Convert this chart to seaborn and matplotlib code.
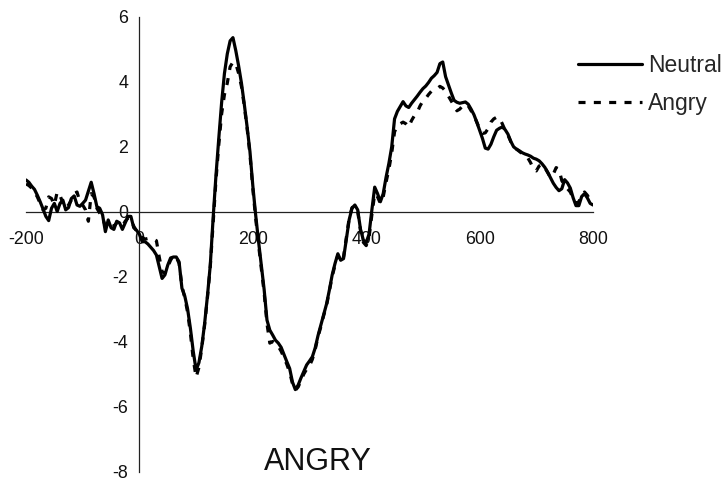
import numpy as np
import pandas as pd
import matplotlib
matplotlib.use("Agg")
import matplotlib.pyplot as plt
import seaborn as sns

# Grand-average ERP waveforms (microvolts), sampled every 5 ms from -200 to 800 ms
time_ms = np.arange(-200, 801, 5)

neutral_uv = [
    0.97, 0.90, 0.78, 0.68, 0.50, 0.30, 0.08, -0.15, -0.28, 0.10,
    0.25, 0.00, 0.25, 0.35, 0.05, 0.12, 0.40, 0.48, 0.20, 0.16,
    0.25, 0.35, 0.62, 0.90, 0.55, 0.15, 0.10, -0.10, -0.62, -0.26,
    -0.50, -0.55, -0.30, -0.35, -0.55, -0.35, -0.15, -0.15, -0.50, -0.58,
    -0.70, -0.93, -0.93, -1.00, -1.10, -1.20, -1.34, -1.70, -2.06, -1.95,
    -1.65, -1.43, -1.40, -1.40, -1.55, -2.36, -2.60, -3.00, -3.60, -4.31,
    -4.88, -4.65, -4.15, -3.45, -2.60, -1.65, -0.21, 1.10, 2.25, 3.35,
    4.25, 4.85, 5.25, 5.35, 4.95, 4.48, 3.95, 3.30, 2.60, 1.84,
    0.80, -0.10, -0.90, -1.65, -2.40, -3.34, -3.65, -3.80, -3.96, -4.05,
    -4.18, -4.40, -4.62, -4.83, -5.25, -5.48, -5.34, -5.12, -4.92, -4.72,
    -4.60, -4.47, -4.20, -3.82, -3.50, -3.17, -2.85, -2.42, -1.95, -1.60,
    -1.30, -1.50, -1.45, -0.85, -0.25, 0.10, 0.20, 0.05, -0.55, -0.88,
    -0.95, -0.70, 0.05, 0.75, 0.55, 0.30, 0.55, 1.05, 1.48, 1.99,
    2.85, 3.08, 3.23, 3.38, 3.25, 3.20, 3.33, 3.44, 3.55, 3.67,
    3.78, 3.86, 3.97, 4.10, 4.18, 4.28, 4.55, 4.60, 4.15, 3.90,
    3.65, 3.42, 3.36, 3.33, 3.35, 3.37, 3.30, 3.15, 2.98, 2.75,
    2.50, 2.25, 1.95, 1.92, 2.07, 2.30, 2.50, 2.56, 2.60, 2.52,
    2.38, 2.16, 1.99, 1.92, 1.87, 1.81, 1.77, 1.74, 1.70, 1.64,
    1.61, 1.56, 1.47, 1.36, 1.21, 1.04, 0.87, 0.74, 0.64, 0.70,
    0.98, 0.88, 0.72, 0.42, 0.18, 0.18, 0.46, 0.55, 0.42, 0.25,
    0.20,
]

angry_uv = [
    0.85, 0.80, 0.72, 0.60, 0.45, 0.25, 0.05, 0.10, 0.45, 0.40,
    0.20, 0.60, 0.50, 0.25, 0.10, 0.20, 0.35, 0.55, 0.60, 0.30,
    0.20, 0.05, -0.30, 0.55, 0.45, 0.10, -0.05, -0.20, -0.45, -0.35,
    -0.45, -0.45, -0.35, -0.40, -0.45, -0.30, -0.20, -0.25, -0.45, -0.60,
    -0.65, -0.80, -0.85, -0.83, -0.85, -0.85, -0.90, -1.40, -1.85, -1.90,
    -1.70, -1.50, -1.35, -1.40, -1.60, -2.30, -2.65, -3.10, -3.75, -4.55,
    -5.10, -4.80, -4.20, -3.50, -2.65, -1.70, -0.35, 0.95, 2.05, 3.00,
    3.60, 3.95, 4.45, 4.60, 4.55, 4.25, 3.85, 3.25, 2.55, 1.75,
    0.70, -0.20, -1.00, -1.75, -2.50, -3.45, -4.05, -4.00, -4.05, -4.15,
    -4.30, -4.50, -4.70, -4.95, -5.30, -5.50, -5.40, -5.20, -5.00, -4.85,
    -4.75, -4.55, -4.25, -3.85, -3.55, -3.20, -2.90, -2.45, -2.00, -1.65,
    -1.35, -1.55, -1.40, -0.80, -0.20, 0.12, 0.18, 0.00, -0.60, -0.95,
    -1.05, -0.80, -0.10, 0.55, 0.45, 0.25, 0.45, 0.90, 1.30, 1.80,
    2.45, 2.65, 2.70, 2.75, 2.70, 2.60, 2.80, 2.95, 3.05, 3.25,
    3.40, 3.48, 3.60, 3.70, 3.74, 3.78, 3.85, 3.80, 3.70, 3.55,
    3.40, 3.25, 3.10, 3.15, 3.25, 3.30, 3.25, 3.10, 2.95, 2.75,
    2.55, 2.40, 2.42, 2.55, 2.75, 2.85, 2.90, 2.88, 2.70, 2.50,
    2.35, 2.15, 2.00, 1.92, 1.85, 1.78, 1.72, 1.65, 1.50, 1.30,
    1.25, 1.40, 1.45, 1.35, 1.20, 1.05, 1.15, 1.35, 1.30, 0.95,
    0.80, 0.70, 0.60, 0.40, 0.25, 0.30, 0.50, 0.60, 0.50, 0.35,
    0.25,
]

x_ticks = [-200, 0, 200, 400, 600, 800]
y_ticks = [-8, -6, -4, -2, 0, 2, 4, 6]
series_names = ["Neutral", "Angry"]
panel_title = "ANGRY"

sns.set_style("white")
plt.rcParams["font.family"] = ["Liberation Sans", "DejaVu Sans"]

W, H = 725, 482
fig = plt.figure(figsize=(W / 100, H / 100), dpi=100)
ax = fig.add_axes([26 / W, 1 - 471.5 / H, (593 - 26) / W, (471.5 - 16.5) / H])

sns.lineplot(x=time_ms, y=neutral_uv, ax=ax, color="black", lw=2.3,
             label=series_names[0], zorder=3)
sns.lineplot(x=time_ms, y=angry_uv, ax=ax, color="black", lw=2.3,
             linestyle=(0, (2.2, 2.6)), label=series_names[1], zorder=3)

ax.set_xlim(-200, 800)
ax.set_ylim(-8, 6)
ax.set_xticks(x_ticks)
ax.set_yticks(y_ticks)
ax.set_xticklabels([str(t) for t in x_ticks])
ax.set_yticklabels([str(t) for t in y_ticks])

# axes cross at the origin, Excel style
for side in ("top", "right"):
    ax.spines[side].set_visible(False)
ax.spines["left"].set_position(("data", 0))
ax.spines["bottom"].set_position(("data", 0))
for side in ("left", "bottom"):
    ax.spines[side].set_color("#222222")
    ax.spines[side].set_linewidth(0.9)
    ax.spines[side].set_zorder(1)
ax.set_axisbelow(True)
ax.tick_params(axis="x", direction="out", length=3, width=0.9, color="#222222",
               pad=11, labelsize=12.8, labelcolor="#111111")
ax.tick_params(axis="y", direction="out", length=3, width=0.9, color="#222222",
               pad=5, labelsize=12.8, labelcolor="#111111")
ax.set_xlabel("")
ax.set_ylabel("")
ax.patch.set_alpha(0)

handles, labels = ax.get_legend_handles_labels()
leg = ax.legend(handles, labels, loc="upper left",
                bbox_to_anchor=(578 / W, 1 - 54 / H), bbox_transform=fig.transFigure,
                frameon=False, fontsize=16.5, handlelength=2.8, handletextpad=0.26,
                labelspacing=0.67, borderpad=0, borderaxespad=0)
for h in leg.legend_handles:
    h.set_linewidth(2.3)

fig.text(318 / W, 1 - 470 / H, panel_title, ha="center", va="baseline",
         fontsize=22, color="#111111")

fig.savefig("out.png", dpi=100)
